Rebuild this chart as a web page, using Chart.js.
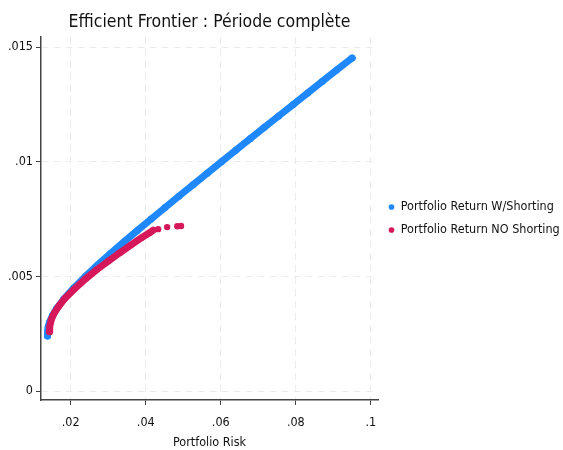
<!DOCTYPE html>
<html>
<head>
<meta charset="utf-8">
<script src="https://cdn.jsdelivr.net/npm/chart.js@4.4.0/dist/chart.umd.min.js"></script>
<style>
    html, body {margin: 0; padding: 0; background: #fff;}
    #wrap {width: 563px; height: 450px;}
</style>
</head>
<body>
<div id="wrap"><canvas id="frontier_chart"></canvas></div>
<script>
// values (risk = x, return = y)
const riskShort = [0.01382, 0.01380, 0.01382, 0.01400, 0.01434, 0.01515, 0.01625, 0.01810, 0.02084, 0.02391,
    0.02719, 0.03062, 0.03415, 0.03776, 0.04142, 0.04512, 0.04885, 0.05261, 0.05639, 0.06018,
    0.06399, 0.06781, 0.07163, 0.07547, 0.07931, 0.08316, 0.08701, 0.09087, 0.09500];
const retShort = [0.0024, 0.0025, 0.0026, 0.0028, 0.0030, 0.0033, 0.0036, 0.0040, 0.0045, 0.0050,
    0.0055, 0.0060, 0.0065, 0.0070, 0.0075, 0.0080, 0.0085, 0.0090, 0.0095, 0.0100,
    0.0105, 0.0110, 0.0115, 0.0120, 0.0125, 0.0130, 0.0135, 0.0140, 0.01452];

const riskNoShort = [0.01430, 0.01440, 0.01480, 0.01560, 0.01680, 0.01850, 0.02100, 0.02400, 0.02700, 0.03000,
    0.03300, 0.03600, 0.03900, 0.04100, 0.04200, 0.04330, 0.04570, 0.04840, 0.04940];
const retNoShort = [0.00259, 0.00280, 0.00310, 0.00340, 0.00370, 0.00405, 0.00445, 0.00490, 0.00530, 0.00566,
    0.00602, 0.00636, 0.00670, 0.00690, 0.00702, 0.00706, 0.00715, 0.00719, 0.00720];

const seriesNames = ['Portfolio Return W/Shorting', 'Portfolio Return NO Shorting'];
const xTicks = [0.02, 0.04, 0.06, 0.08, 0.1];
const xTickLabels = ['.02', '.04', '.06', '.08', '.1'];
const yTicks = [0, 0.005, 0.01, 0.015];
const yTickLabels = ['0', '.005', '.01', '.015'];

let blue = '#1f88ff';
let red = '#d6185a';
let font = "'DejaVu Sans Condensed', 'Liberation Sans', sans-serif";
let denseNoShort = 15;

function toPoints(xs, ys) {
    return xs.map((x, i) => ({x: x, y: ys[i]}));
}

const ctx = document.getElementById('frontier_chart').getContext('2d');
const chart = new Chart(ctx, {
    type: 'scatter',
    data: {
        datasets: [{
            label: seriesNames[0],
            data: toPoints(riskShort, retShort),
            showLine: true,
            borderColor: blue,
            backgroundColor: blue,
            borderWidth: 7,
            borderCapStyle: 'round',
            borderJoinStyle: 'round',
            pointRadius: 3.5,
            pointBorderWidth: 0,
            order: 1
        }, {
            label: seriesNames[1],
            data: toPoints(riskNoShort, retNoShort),
            showLine: true,
            borderColor: red,
            backgroundColor: red,
            borderWidth: 7,
            borderCapStyle: 'round',
            borderJoinStyle: 'round',
            pointRadius: 3.2,
            pointBorderWidth: 0,
            segment: {
                borderColor: c => c.p1DataIndex >= denseNoShort ? 'transparent' : red
            },
            order: 0
        }]
    },
    options: {
        responsive: true,
        maintainAspectRatio: false,
        animation: false,
        layout: {padding: 0},
        plugins: {
            tooltip: {enabled: false},
            title: {
                display: true,
                text: 'Efficient Frontier : Période complète',
                fullSize: false,
                color: '#111',
                font: {family: font, size: 17.5, weight: 'normal'},
                padding: {top: 12, bottom: 4}
            },
            legend: {
                position: 'right',
                fullSize: false,
                maxWidth: 185,
                labels: {
                    usePointStyle: true,
                    pointStyle: 'circle',
                    boxWidth: 6,
                    boxHeight: 4,
                    padding: 10.5,
                    color: '#111',
                    font: {family: font, size: 12.5},
                    sort: (a, b) => a.datasetIndex - b.datasetIndex
                }
            }
        },
        scales: {
            x: {
                type: 'linear',
                min: 0.01208,
                max: 0.1019,
                afterBuildTicks: axis => { axis.ticks = xTicks.map(v => ({value: v})); },
                afterFit: axis => { axis.height = 50; },
                ticks: {
                    padding: 10,
                    color: '#111',
                    font: {family: font, size: 12.5},
                    callback: (v, i) => xTickLabels[i]
                },
                grid: {
                    color: '#ececec',
                    lineWidth: 1,
                    tickLength: 5,
                    tickColor: '#444',
                    tickBorderDash: []
                },
                border: {color: '#444', width: 1.5, dash: [7, 5]},
                title: {
                    display: true,
                    text: 'Portfolio Risk',
                    color: '#111',
                    font: {family: font, size: 12.5},
                    padding: {top: 2, bottom: 0}
                }
            },
            y: {
                type: 'linear',
                min: -0.00039,
                max: 0.01544,
                afterBuildTicks: axis => { axis.ticks = yTicks.map(v => ({value: v})); },
                afterFit: axis => { axis.width = 41; },
                ticks: {
                    padding: 3,
                    color: '#111',
                    font: {family: font, size: 12.5},
                    callback: (v, i) => yTickLabels[i]
                },
                grid: {
                    color: '#ececec',
                    lineWidth: 1,
                    tickLength: 5,
                    tickColor: '#444',
                    tickBorderDash: []
                },
                border: {color: '#444', width: 1.5, dash: [7, 5]}
            }
        }
    }
});
</script>
</body>
</html>
